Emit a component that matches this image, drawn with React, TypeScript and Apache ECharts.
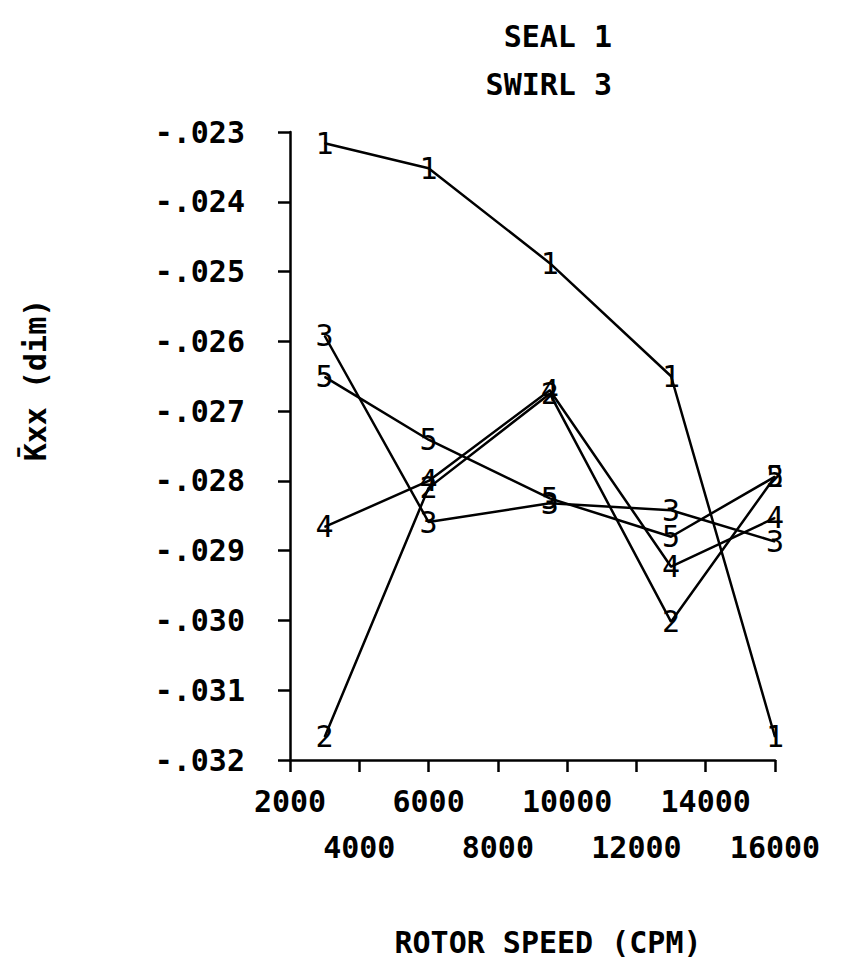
import React, { useEffect, useRef } from "react";
import * as echarts from "echarts";

const speeds = [3000, 6000, 9500, 13000, 16000];
const curve1 = [-0.02316, -0.02352, -0.02488, -0.0265, -0.03167];
const curve2 = [-0.03167, -0.0281, -0.02675, -0.03002, -0.02794];
const curve3 = [-0.02592, -0.02859, -0.02832, -0.02842, -0.02887];
const curve4 = [-0.02866, -0.028, -0.0267, -0.02923, -0.02853];
const curve5 = [-0.02651, -0.02741, -0.02825, -0.0288, -0.02794];
const curveNames = ["1", "2", "3", "4", "5"];
const curves = [curve1, curve2, curve3, curve4, curve5];

const FONT = "DejaVu Sans Mono";

export default function App() {
  const ref = useRef<HTMLDivElement>(null);
  useEffect(() => {
    if (!ref.current) return;
    const chart = echarts.init(ref.current, null, { renderer: "svg" });
    const txt = { fontFamily: FONT, fontSize: 30, fontWeight: "bold", color: "#000" };
    const xBase = {
      type: "value",
      min: 2000,
      max: 16000,
      interval: 2000,
      position: "bottom",
      splitLine: { show: false },
    };
    chart.setOption({
      animation: false,
      backgroundColor: "#fff",
      title: [
        { text: "SEAL 1", right: 245, top: 16, textStyle: { ...txt } },
        { text: "SWIRL 3", right: 245, top: 64, textStyle: { ...txt } },
      ],
      grid: { left: 290, right: 87, top: 132, bottom: 219, containLabel: false, outerBoundsMode: "none" },
      xAxis: [
        {
          ...xBase,
          axisLine: { show: true, lineStyle: { color: "#000", width: 2.5 } },
          axisTick: { show: true, inside: false, length: 12, lineStyle: { color: "#000", width: 2.5 } },
          axisLabel: {
            ...txt,
            margin: 26,
            showMinLabel: true,
            showMaxLabel: true,
            hideOverlap: false,
            formatter: (v: number, i: number) => (i % 2 === 0 ? String(v) : ""),
          },
        },
        {
          ...xBase,
          axisLine: { show: false },
          axisTick: { show: false },
          axisLabel: {
            ...txt,
            margin: 72,
            showMinLabel: true,
            showMaxLabel: true,
            hideOverlap: false,
            formatter: (v: number, i: number) => (i % 2 === 1 ? String(v) : ""),
          },
        },
      ],
      yAxis: {
        type: "value",
        min: -0.032,
        max: -0.023,
        interval: 0.001,
        axisLine: { show: true, lineStyle: { color: "#000", width: 2.5 } },
        axisTick: { show: true, inside: false, length: 12, lineStyle: { color: "#000", width: 2.5 } },
        splitLine: { show: false },
        axisLabel: {
          ...txt,
          margin: 45,
          showMinLabel: true,
          showMaxLabel: true,
          formatter: (v: number) => v.toFixed(3).replace("-0.", "-."),
        },
      },
      graphic: [
        {
          type: "text",
          x: 35,
          y: 380,
          rotation: Math.PI / 2,
          style: { text: "K\u0304xx (dim)", font: `bold 30px "${FONT}"`, fill: "#000", align: "center", verticalAlign: "middle" },
        },
        {
          type: "text",
          x: 548,
          y: 942,
          style: { text: "ROTOR SPEED (CPM)", font: `bold 30px "${FONT}"`, fill: "#000", align: "center", verticalAlign: "middle" },
        },
      ],
      series: curves.map((vals, k) => ({
        type: "line",
        name: curveNames[k],
        xAxisIndex: 0,
        data: speeds.map((s, i) => [s, vals[i]]),
        symbol: "circle",
        symbolSize: 1,
        itemStyle: { color: "#000" },
        lineStyle: { color: "#000", width: 2.5 },
        label: {
          show: true,
          position: "inside",
          formatter: curveNames[k],
          fontFamily: FONT,
          fontSize: 30,
          color: "#000",
        },
      })),
    });
    return () => chart.dispose();
  }, []);
  return <div ref={ref} style={{ position: "fixed", left: 0, top: 0, width: 862, height: 979, background: "#fff" }} />;
}
